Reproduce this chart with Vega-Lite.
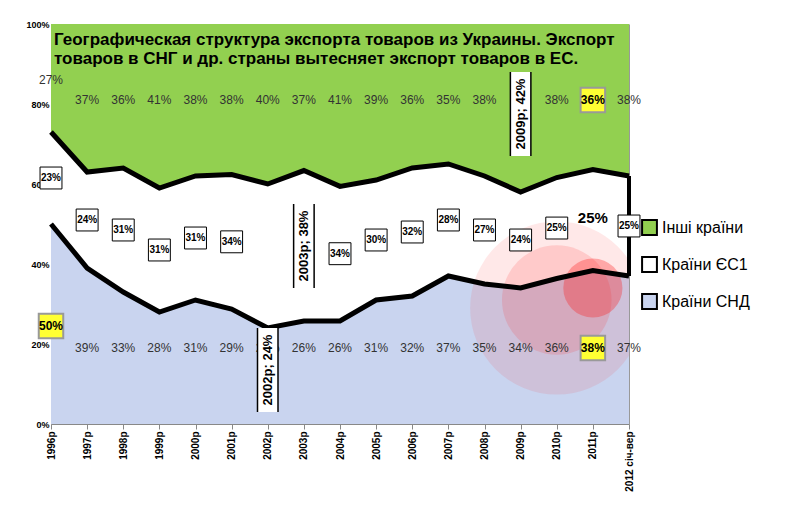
{
  "$schema": "https://vega.github.io/schema/vega-lite/v6.json",
  "width": 578,
  "height": 400,
  "padding": {"left": 25, "top": 20, "right": 10, "bottom": 10},
  "autosize": {"type": "pad"},
  "background": "white",
  "config": {"font": "Liberation Sans", "view": {"stroke": null}},
  "title": {
    "text": ["Географическая структура экспорта товаров из Украины. Экспорт", "товаров в СНГ и др. страны вытесняет экспорт товаров в ЕС."],
    "anchor": "start", "dx": 28, "fontSize": 17, "fontWeight": "bold", "color": "black", "offset": -48
  },
  "datasets": {
    "share": [
      {"year": "1996р", "cis": 50, "eu": 23, "oth": 27},
      {"year": "1997р", "cis": 39, "eu": 24, "oth": 37},
      {"year": "1998р", "cis": 33, "eu": 31, "oth": 36},
      {"year": "1999р", "cis": 28, "eu": 31, "oth": 41},
      {"year": "2000р", "cis": 31, "eu": 31, "oth": 38},
      {"year": "2001р", "cis": 29, "eu": 34, "oth": 38},
      {"year": "2002р", "cis": 24, "eu": 36, "oth": 40},
      {"year": "2003р", "cis": 26, "eu": 38, "oth": 37},
      {"year": "2004р", "cis": 26, "eu": 34, "oth": 41},
      {"year": "2005р", "cis": 31, "eu": 30, "oth": 39},
      {"year": "2006р", "cis": 32, "eu": 32, "oth": 36},
      {"year": "2007р", "cis": 37, "eu": 28, "oth": 35},
      {"year": "2008р", "cis": 35, "eu": 27, "oth": 38},
      {"year": "2009р", "cis": 34, "eu": 24, "oth": 42},
      {"year": "2010р", "cis": 36, "eu": 25, "oth": 38},
      {"year": "2011р", "cis": 38, "eu": 25, "oth": 36},
      {"year": "2012 січ-вер", "cis": 37, "eu": 25, "oth": 38}
    ],
    "notes": [
      {"x": "2002р", "y": 0.135, "lo": 0.03, "hi": 0.24, "t": "2002р; 24%"},
      {"x": "2003р", "y": 0.445, "lo": 0.34, "hi": 0.55, "t": "2003р; 38%"},
      {"x": "2009р", "y": 0.775, "lo": 0.67, "hi": 0.88, "t": "2009р; 42%"}
    ]
  },
  "data": {"name": "share"},
  "transform": [
    {"fold": ["cis", "eu", "oth"], "as": ["key", "v"]},
    {"lookup": "key", "from": {"data": {"values": [
      {"key": "cis", "name": "Країни СНД", "ord": 0},
      {"key": "eu", "name": "Країни ЄС1", "ord": 1},
      {"key": "oth", "name": "Інші країни", "ord": 2}]}, "key": "key", "fields": ["name", "ord"]}},
    {"stack": "v", "groupby": ["year"], "sort": [{"field": "ord"}], "offset": "normalize", "as": ["y0", "y1"]}
  ],
  "encoding": {
    "x": {"field": "year", "type": "ordinal", "sort": null, "scale": {"type": "point", "padding": 0},
      "axis": {"title": null, "labelAngle": -90, "labelFontWeight": "bold", "labelFontSize": 10, "labelColor": "black", "domainColor": "#888", "tickColor": "#888", "grid": true, "gridColor": "#999"}}
  },
  "layer": [
    {
      "mark": {"type": "area", "interpolate": "linear"},
      "encoding": {
        "y": {"field": "y1", "type": "quantitative", "scale": {"domain": [0, 1]},
          "axis": {"title": null, "format": ".0%", "values": [0, 0.1, 0.2, 0.3, 0.4, 0.5, 0.6, 0.7, 0.8, 0.9, 1], "labelFontSize": 9, "labelFontWeight": "bold", "grid": true, "gridColor": "#bbb", "domain": false, "ticks": false}},
        "y2": {"field": "y0"},
        "order": {"field": "ord"},
        "color": {"field": "name", "type": "nominal",
          "scale": {"domain": ["Інші країни", "Країни ЄС1", "Країни СНД"], "range": ["#92d050", "#ffffff", "#c9d4ef"]},
          "legend": {"title": null, "orient": "none", "legendX": 590, "legendY": 195, "labelFontSize": 16, "symbolType": "square", "symbolSize": 220, "symbolStrokeColor": "black", "symbolStrokeWidth": 2, "rowPadding": 14, "labelFont": "Liberation Sans"}}
      }
    },
    {
      "data": {"values": [{"x": "2010р", "y": 0.29}]},
      "mark": {"type": "circle", "color": "#ff2020", "opacity": 0.1, "size": 30000, "clip": true},
      "encoding": {"x": {"field": "x", "type": "ordinal"}, "y": {"field": "y", "type": "quantitative"}}
    },
    {
      "data": {"values": [{"x": "2010р", "y": 0.31}]},
      "mark": {"type": "circle", "color": "#ff2020", "opacity": 0.15, "size": 12000, "clip": true},
      "encoding": {"x": {"field": "x", "type": "ordinal"}, "y": {"field": "y", "type": "quantitative"}}
    },
    {
      "data": {"values": [{"x": "2011р", "y": 0.34}]},
      "mark": {"type": "circle", "color": "#ff1010", "opacity": 0.3, "size": 3500, "clip": true},
      "encoding": {"x": {"field": "x", "type": "ordinal"}, "y": {"field": "y", "type": "quantitative"}}
    },
    {
      "transform": [{"filter": "datum.key != 'oth'"}],
      "mark": {"type": "line", "color": "black", "strokeWidth": 5},
      "encoding": {"y": {"field": "y1", "type": "quantitative"}, "detail": {"field": "key"}}
    },
    {
      "transform": [{"filter": "datum.key == 'eu' && datum.year == '2012 січ-вер'"}],
      "mark": {"type": "rule", "color": "black", "strokeWidth": 4},
      "encoding": {"y": {"field": "y0", "type": "quantitative"}, "y2": {"field": "y1"}}
    },
    {
      "transform": [{"filter": "datum.key == 'eu' && datum.year != '2002р' && datum.year != '2003р' && datum.year != '2011р'"}, {"calculate": "(datum.y0 + datum.y1) / 2", "as": "ym"}],
      "mark": {"type": "square", "size": 480, "fill": "white", "stroke": "black", "opacity": 1, "strokeWidth": 1},
      "encoding": {"y": {"field": "ym", "type": "quantitative"}}
    },
    {
      "transform": [{"filter": "datum.key == 'eu' && datum.year != '2002р' && datum.year != '2003р' && datum.year != '2011р'"}, {"calculate": "(datum.y0 + datum.y1) / 2", "as": "ym"}, {"calculate": "datum.v + '%'", "as": "lab"}],
      "mark": {"type": "text", "fontSize": 10, "fontWeight": "bold"},
      "encoding": {"y": {"field": "ym", "type": "quantitative"}, "text": {"field": "lab"}}
    },
    {
      "transform": [{"filter": "datum.key == 'cis' && datum.year != '1996р' && datum.year != '2011р'"}, {"calculate": "datum.v + '%'", "as": "lab"}],
      "mark": {"type": "text", "fontSize": 12, "color": "#333"},
      "encoding": {"y": {"datum": 0.19}, "text": {"field": "lab"}}
    },
    {
      "transform": [{"filter": "datum.key == 'oth' && datum.year != '2011р' && datum.year != '2009р'"}, {"calculate": "datum.v + '%'", "as": "lab"}, {"calculate": "datum.year == '1996р' ? 0.86 : 0.81", "as": "yl"}],
      "mark": {"type": "text", "fontSize": 12, "color": "#333"},
      "encoding": {"y": {"field": "yl", "type": "quantitative"}, "text": {"field": "lab"}}
    },
    {
      "data": {"values": [{"x": "1996р", "y": 0.245, "t": "50%"}, {"x": "2011р", "y": 0.19, "t": "38%"}, {"x": "2011р", "y": 0.81, "t": "36%"}]},
      "mark": {"type": "square", "size": 600, "fill": "#ffff33", "stroke": "#999", "opacity": 1},
      "encoding": {"x": {"field": "x", "type": "ordinal"}, "y": {"field": "y", "type": "quantitative"}}
    },
    {
      "data": {"values": [{"x": "1996р", "y": 0.245, "t": "50%"}, {"x": "2011р", "y": 0.19, "t": "38%"}, {"x": "2011р", "y": 0.81, "t": "36%"}]},
      "mark": {"type": "text", "fontSize": 12, "fontWeight": "bold"},
      "encoding": {"x": {"field": "x", "type": "ordinal"}, "y": {"field": "y", "type": "quantitative"}, "text": {"field": "t"}}
    },
    {
      "data": {"name": "notes"},
      "mark": {"type": "rule", "color": "black", "strokeWidth": 22, "strokeCap": "butt"},
      "encoding": {"x": {"field": "x", "type": "ordinal"}, "y": {"field": "lo", "type": "quantitative"}, "y2": {"field": "hi"}}
    },
    {
      "data": {"name": "notes"},
      "mark": {"type": "rule", "color": "white", "strokeWidth": 19, "strokeCap": "butt"},
      "encoding": {"x": {"field": "x", "type": "ordinal"}, "y": {"field": "lo", "type": "quantitative", "scale": {"domain": [0, 1]}}, "y2": {"field": "hi"}}
    },
    {
      "data": {"name": "notes"},
      "mark": {"type": "text", "angle": 270, "fontSize": 13, "fontWeight": "bold"},
      "encoding": {"x": {"field": "x", "type": "ordinal"}, "y": {"field": "y", "type": "quantitative"}, "text": {"field": "t"}}
    },
    {
      "data": {"values": [{"x": "2011р", "y": 0.515, "t": "25%"}]},
      "mark": {"type": "text", "fontSize": 15, "fontWeight": "bold"},
      "encoding": {"x": {"field": "x", "type": "ordinal"}, "y": {"field": "y", "type": "quantitative"}, "text": {"field": "t"}}
    }
  ]
}
